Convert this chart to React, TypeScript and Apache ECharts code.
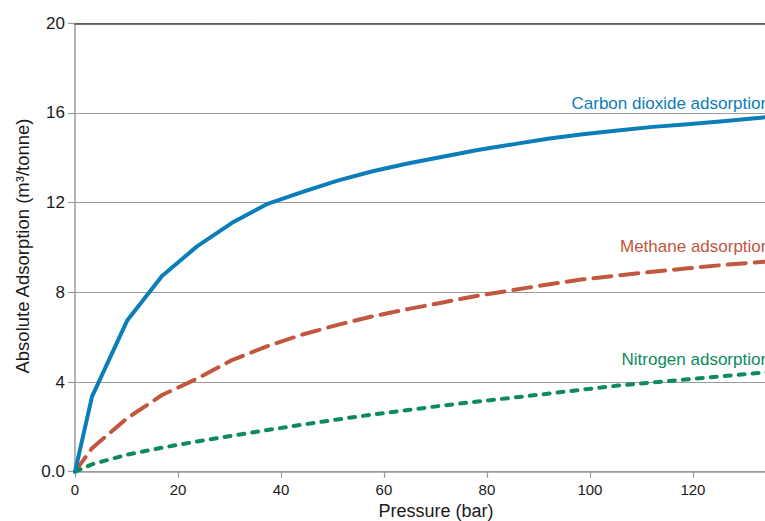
import React, { useEffect, useRef } from "react";
import * as echarts from "echarts";

// Pressure steps (bar) at which adsorption was measured
const pressureBar = [0, 3.3, 10.1, 16.9, 23.7, 30.5, 37.4, 44.2, 51.0, 57.8, 64.6, 71.4, 78.2, 85.0, 91.8, 98.6, 105.4, 112.2, 119.0, 125.8, 132.6, 139.4];

// Absolute adsorption (m³/tonne)
const co2Values = [0, 3.35, 6.73, 8.73, 10.05, 11.1, 11.95, 12.48, 12.98, 13.4, 13.75, 14.05, 14.35, 14.6, 14.85, 15.05, 15.22, 15.38, 15.5, 15.63, 15.78, 15.9];
const methaneValues = [0, 1.05, 2.38, 3.42, 4.15, 4.98, 5.6, 6.12, 6.55, 6.93, 7.25, 7.55, 7.85, 8.1, 8.35, 8.58, 8.75, 8.92, 9.07, 9.22, 9.34, 9.46];
const nitrogenValues = [0, 0.33, 0.76, 1.07, 1.35, 1.6, 1.86, 2.1, 2.33, 2.55, 2.75, 2.95, 3.13, 3.3, 3.48, 3.66, 3.84, 3.98, 4.12, 4.26, 4.4, 4.52];

const seriesNames = ["Carbon dioxide adsorption", "Methane adsorption", "Nitrogen adsorption"];
const xTickLabels = [0, 20, 40, 60, 80, 100, 120];
const yTickLabels = ["0.0", "4", "8", "12", "16", "20"];

const FONT = "Liberation Sans, Arial, Helvetica, sans-serif";
const BLUE = "#0b7db8";
const RED = "#c0573e";
const GREEN = "#0e8a5c";
const AXIS_GRAY = "#9a9a9a";

const pairs = (ys: number[]) => pressureBar.map((x, i) => [x, ys[i]]);

export default function App() {
  const ref = useRef<HTMLDivElement>(null);

  useEffect(() => {
    if (!ref.current) return;
    const chart = echarts.init(ref.current, undefined, { renderer: "svg" });

    chart.setOption({
      animation: false,
      backgroundColor: "#ffffff",
      grid: { left: 75, right: 0, top: 23.3, bottom: 49.3, containLabel: false },
      xAxis: [
        {
          type: "value",
          min: 0,
          max: 134,
          interval: 20,
          axisLine: { show: true, lineStyle: { color: AXIS_GRAY, width: 1.5 } },
          axisTick: { show: true, length: 6, lineStyle: { color: AXIS_GRAY, width: 1.2 } },
          splitLine: { show: false },
          axisLabel: {
            margin: 10,
            color: "#1a1a1a",
            fontSize: 15,
            fontFamily: FONT,
            showMaxLabel: false,
            formatter: (v: number) => (xTickLabels.includes(v) ? String(v) : ""),
          },
        },
        {
          type: "value",
          position: "top",
          min: 0,
          max: 134,
          interval: 20,
          axisLine: { show: true, lineStyle: { color: "#4a4a4a", width: 1.5 } },
          axisTick: { show: false },
          axisLabel: { show: false },
          splitLine: { show: false },
        },
      ],
      yAxis: {
        type: "value",
        min: 0,
        max: 20,
        interval: 4,
        axisLine: { show: true, lineStyle: { color: AXIS_GRAY, width: 1.5 } },
        axisTick: { show: true, length: 7, lineStyle: { color: AXIS_GRAY, width: 1.2 } },
        splitLine: { show: true, lineStyle: { color: AXIS_GRAY, width: 1.2 } },
        axisLabel: {
          margin: 10,
          color: "#1a1a1a",
          fontSize: 17,
          fontFamily: FONT,
          formatter: (v: number) => yTickLabels[Math.round(v / 4)] ?? "",
        },
      },
      series: [
        {
          name: seriesNames[0],
          type: "line",
          data: pairs(co2Values),
          showSymbol: false,
          lineStyle: { color: BLUE, width: 4, cap: "round", join: "round" },
          z: 3,
        },
        {
          name: seriesNames[1],
          type: "line",
          data: pairs(methaneValues),
          showSymbol: false,
          lineStyle: { color: RED, width: 4, type: [18, 9], cap: "round", join: "round" },
          z: 2,
        },
        {
          name: seriesNames[2],
          type: "line",
          data: pairs(nitrogenValues),
          showSymbol: false,
          lineStyle: { color: GREEN, width: 4, type: [6, 8], cap: "round", join: "round" },
          z: 2,
        },
      ],
      graphic: [
        {
          type: "text",
          x: 22,
          y: 246,
          rotation: Math.PI / 2,
          style: {
            text: "Absolute Adsorption (m³/tonne)",
            font: `18.5px ${FONT}`,
            fill: "#1a1a1a",
            align: "center",
            verticalAlign: "middle",
          },
        },
        {
          type: "text",
          x: 436,
          y: 511,
          style: {
            text: "Pressure (bar)",
            font: `18px ${FONT}`,
            fill: "#1a1a1a",
            align: "center",
            verticalAlign: "middle",
          },
        },
        {
          type: "text",
          x: 571.5,
          y: 103.3,
          style: { text: seriesNames[0], font: `17px ${FONT}`, fill: BLUE, align: "left", verticalAlign: "middle" },
        },
        {
          type: "text",
          x: 620,
          y: 246.7,
          style: { text: seriesNames[1], font: `17px ${FONT}`, fill: RED, align: "left", verticalAlign: "middle" },
        },
        {
          type: "text",
          x: 621.5,
          y: 359,
          style: { text: seriesNames[2], font: `17px ${FONT}`, fill: GREEN, align: "left", verticalAlign: "middle" },
        },
      ],
    });

    return () => chart.dispose();
  }, []);

  return (
    <div
      ref={ref}
      style={{ position: "fixed", left: 0, top: 0, width: 765, height: 521 }}
    />
  );
}
